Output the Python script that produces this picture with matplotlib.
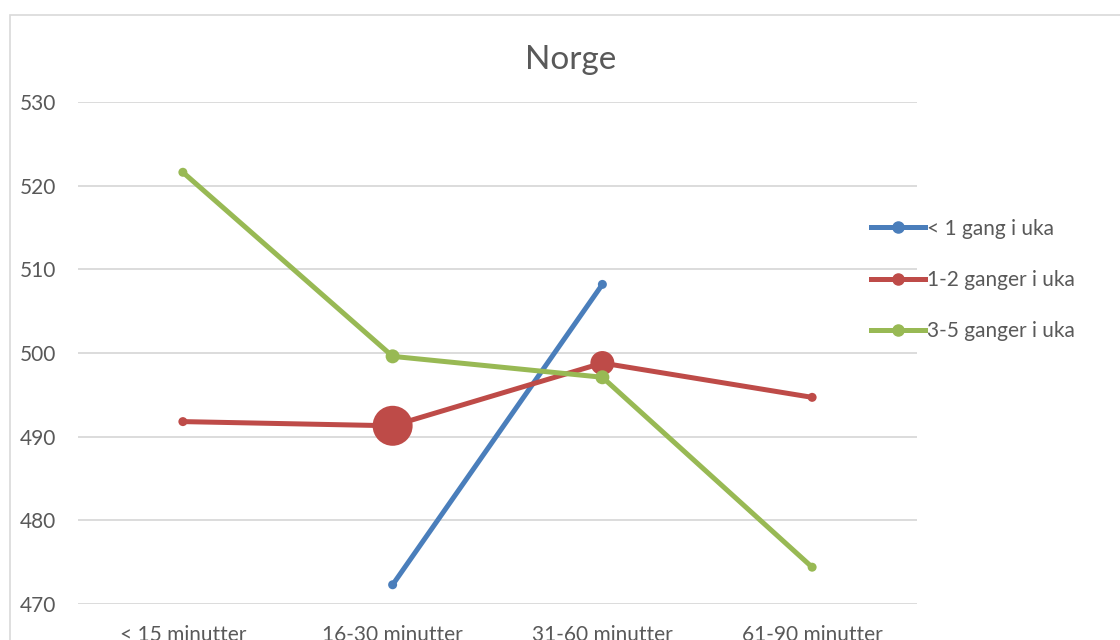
import matplotlib.pyplot as plt
from matplotlib.patches import Rectangle

plt.rcParams['font.family'] = ['Lato', 'DejaVu Sans']

categories = ["< 15 minutter", "16-30 minutter", "31-60 minutter", "61-90 minutter"]
series_names = ["< 1 gang i uka", "1-2 ganger i uka", "3-5 ganger i uka"]
under_1 = [None, 472.3, 508.2, None]
ganger_1_2 = [491.8, 491.3, 498.8, 494.7]
ganger_3_5 = [521.6, 499.6, 497.1, 474.4]

colors = ["#4A7EBB", "#BE4B48", "#98B954"]
# marker radius per point (px)
sizes = [[0, 4.5, 4.5, 0], [4.5, 20, 12, 4.5], [4.5, 7, 7, 4.5]]

text_col = "#595959"
fig = plt.figure(figsize=(11.2, 6.4), dpi=100)
ax = fig.add_axes([78 / 1120, 36 / 640, (917 - 78) / 1120, (604 - 102) / 640])

# chart border
fig.patches.append(Rectangle((10 / 1120, -0.1), 1.2, (640 - 15) / 640 + 0.1,
                             transform=fig.transFigure, fill=False,
                             edgecolor="#D9D9D9", linewidth=1.2))

x = [0.5, 1.5, 2.5, 3.5]
for vals, name, c, sz in zip([under_1, ganger_1_2, ganger_3_5], series_names, colors, sizes):
    xs = [xi for xi, v in zip(x, vals) if v is not None]
    ys = [v for v in vals if v is not None]
    ss = [s for s, v in zip(sz, vals) if v is not None]
    ax.plot(xs, ys, color=c, linewidth=3.6, solid_capstyle='round', zorder=3)
    ax.scatter(xs, ys, s=[(2 * r * 72 / 100) ** 2 for r in ss], color=c, zorder=4,
               linewidths=0)
    ax.plot([], [], color=c, linewidth=3.6, marker='o', markersize=8, label=name)

ax.set_xlim(0, 4)
ax.set_ylim(470, 530)
ax.set_yticks(range(470, 531, 10))
ax.yaxis.grid(True, color="#D9D9D9", linewidth=1.3)
ax.set_axisbelow(True)
ax.set_xticks(x)
ax.set_xticklabels(categories)
ax.tick_params(length=0, labelsize=15, colors=text_col)
ax.tick_params(axis='x', pad=15)
ax.tick_params(axis='y', pad=16)
for s in ax.spines.values():
    s.set_visible(False)

fig.text(571 / 1120, 1 - 60 / 640, "Norge", ha='center', va='center',
         fontsize=24, color=text_col)

leg = fig.legend(loc='upper left', bbox_to_anchor=(852 / 1120, 1 - 200 / 640),
                 frameon=False, fontsize=15, labelcolor=text_col,
                 handlelength=2.6, handletextpad=0.1, labelspacing=1.5)

fig.savefig("out.png", dpi=100)
